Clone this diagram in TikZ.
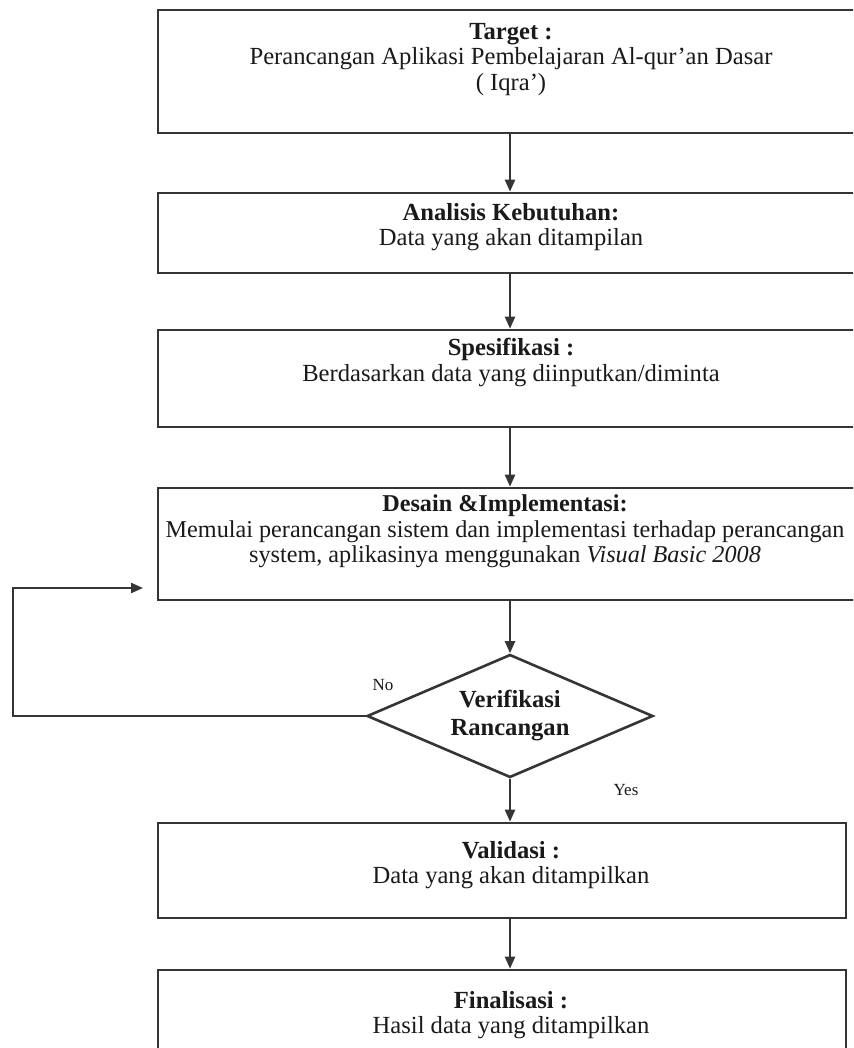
\documentclass[tikz,border=0pt]{standalone}
\usepackage{fontspec}
\setmainfont{Liberation Serif}
\usetikzlibrary{arrows.meta,shapes.geometric}
\definecolor{linec}{HTML}{353535}
\definecolor{txtc}{HTML}{1A1A1A}
\begin{document}
\begin{tikzpicture}[x=1pt,y=-1pt,
  boxst/.style={draw=linec, line width=2.6pt, rectangle, inner sep=0pt},
  txt/.style={align=center, inner sep=0pt, anchor=north, text=txtc,
    font=\fontsize{24.6}{25.5}\selectfont},
  lbl/.style={inner sep=0pt, text=txtc, font=\fontsize{17}{18}\selectfont},
  arr/.style={draw=linec, line width=2.2pt, -{Triangle[length=12pt,width=10pt]}},
  decision/.style={diamond, draw=linec, line width=2.6pt, inner sep=0pt,
    aspect=2.33, minimum width=286pt, minimum height=123pt, align=center,
    text=txtc, font=\bfseries\fontsize{24.6}{28}\selectfont}
]
\useasboundingbox (0,0) rectangle (853,1048);
\clip (0,0) rectangle (853,1048);
\fill[white] (0,0) rectangle (853,1048);

% boxes
\node[boxst, minimum width=704pt, minimum height=123pt] (b1) at (510,71.5) {};
\node[boxst, minimum width=704pt, minimum height=80pt]  (b2) at (510,233) {};
\node[boxst, minimum width=704pt, minimum height=97pt]  (b3) at (510,378.5) {};
\node[boxst, minimum width=704pt, minimum height=112pt] (b4) at (510,544) {};
\node[decision] (dia) at (510,716) {Verifikasi\\Rancangan};
\node[boxst, minimum width=688pt, minimum height=95pt]  (b5) at (502,870.5) {};
\node[boxst, minimum width=688pt, minimum height=120pt] (b6) at (502,1030) {};

% texts
\node[txt] (t1) at (511,23) {\textbf{Target :}\\Perancangan Aplikasi Pembelajaran Al-qur’an Dasar\\( Iqra’)};
\node[txt] (t2) at (511,203) {\textbf{Analisis Kebutuhan:}\\Data yang akan ditampilan};
\node[txt] (t3) at (511,338) {\textbf{Spesifikasi :}\\Berdasarkan data yang diinputkan/diminta};
\node[txt, font=\fontsize{24.2}{25.5}\selectfont] (t4) at (505,495) {\textbf{Desain \&Implementasi:}\\Memulai perancangan sistem dan implementasi terhadap perancangan\\system, aplikasinya menggunakan \textit{Visual Basic 2008}};
\node[txt] (t5) at (511,841) {\textbf{Validasi :}\\Data yang akan ditampilkan};
\node[txt] (t6) at (511,991) {\textbf{Finalisasi :}\\Hasil data yang ditampilkan};

% labels
\node[lbl] (no) at (383,685) {No};
\node[lbl] (yes) at (626,790) {Yes};

% connectors
\draw[arr] (b1.south) -- (b2.north);
\draw[arr] (b2.south) -- (b3.north);
\draw[arr] (b3.south) -- (b4.north);
\draw[arr] (b4.south) -- (dia.north);
\draw[arr] (dia.south) -- (dia.south |- b5.north);
\draw[arr] (dia.south |- b5.south) -- (dia.south |- b6.north);

\coordinate (c1) at (13,716);
\coordinate (c2) at (13,588);
\coordinate (fbend) at (143,588);
\draw[arr] (dia.west) -- (c1) -- (c2) -- (fbend);
\end{tikzpicture}
\end{document}
